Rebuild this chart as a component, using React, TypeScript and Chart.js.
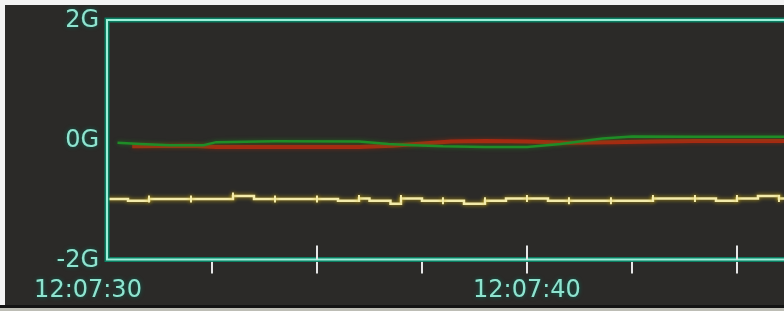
import { useEffect, useRef } from "react";
import { Chart, registerables } from "chart.js";

Chart.register(...registerables);

// ---- data ----
const X_MAX = 16.12; // seconds after 12:07:30 visible at right edge
const X_TICKS = [0, 2.5, 5, 7.5, 10, 12.5, 15];
const MAJOR_TICKS = [5, 10, 15];
const TIME_LABEL_AT = [0, 10];
const TIME_LABELS = ["12:07:30", "12:07:40"];
const Y_TICKS = [-2, 0, 2];
const Y_LABELS = ["-2G", "0G", "2G"];

const YELLOW_T = [
  0, 0.25, 0.5, 0.75, 1, 1.25, 1.5, 1.75, 2, 2.25, 2.5, 2.75, 3, 3.25, 3.5, 3.75,
  4, 4.25, 4.5, 4.75, 5, 5.25, 5.5, 5.75, 6, 6.25, 6.5, 6.75, 7, 7.25, 7.5, 7.75,
  8, 8.25, 8.5, 8.75, 9, 9.25, 9.5, 9.75, 10, 10.25, 10.5, 10.75, 11, 11.25, 11.5, 11.75,
  12, 12.25, 12.5, 12.75, 13, 13.25, 13.5, 13.75, 14, 14.25, 14.5, 14.75, 15, 15.25, 15.5, 15.75,
  16, 16.12,
];
const YELLOW_V = [
  -0.99, -0.99, -1.02, -1.02, -0.99, -0.99, -0.99, -0.99, -0.99, -0.99, -0.99, -0.99, -0.94, -0.94, -0.99, -0.99,
  -0.99, -0.99, -0.99, -0.99, -0.99, -0.99, -1.02, -1.02, -0.98, -1.02, -1.02, -1.07, -0.98, -0.98, -1.02, -1.02,
  -1.02, -1.02, -1.07, -1.07, -1.02, -1.02, -0.98, -0.98, -0.98, -0.98, -1.02, -1.02, -1.02, -1.02, -1.02, -1.02,
  -1.02, -1.02, -1.02, -1.02, -0.98, -0.98, -0.98, -0.98, -0.98, -0.98, -1.02, -1.02, -0.98, -0.98, -0.94, -0.94,
  -0.98, -0.98,
];

const GREEN_T = [0.25, 0.8, 1.5, 2.3, 2.6, 4, 6, 6.7, 7.3, 8, 9, 10, 10.8, 11.8, 12.5, 14, 16.12];
const GREEN_V = [-0.05, -0.07, -0.09, -0.09, -0.04, -0.025, -0.03, -0.07, -0.09, -0.11, -0.12, -0.12, -0.07, 0.02, 0.055, 0.05, 0.05];

const RED_T = [0.6, 2, 2.6, 4, 6, 6.8, 7.6, 8.2, 9, 10, 11, 12, 13, 14, 16.12];
const RED_V = [-0.11, -0.1, -0.12, -0.12, -0.12, -0.1, -0.06, -0.03, -0.02, -0.03, -0.05, -0.04, -0.03, -0.02, -0.02];

// ---- style ----
const FRAME = "#9cefd9";
const FRAME_GLOW = "rgba(10,130,100,0.95)";
const TEXT = "#8fe3cf";
const TEXT_GLOW = "rgba(0,110,90,0.9)";
const FONT = '24px "DejaVu Sans"';
const FIRST_LABEL_SHIFT = -19;

const decoPlugin = {
  id: "deco",
  beforeDatasetDraw(chart: any, args: any) {
    const ds = chart.data.datasets[args.index];
    const ctx = chart.ctx;
    ctx.save();
    ctx.shadowColor = ds.glowColor;
    ctx.shadowBlur = 4;
  },
  afterDatasetDraw(chart: any) {
    chart.ctx.restore();
  },
  afterDraw(chart: any) {
    const ctx = chart.ctx;
    const { left, right, top, bottom } = chart.chartArea;
    const xs = chart.scales.x;
    const ys = chart.scales.y;
    ctx.save();
    // frame with glow
    ctx.lineCap = "butt";
    ctx.strokeStyle = FRAME_GLOW;
    ctx.lineWidth = 5;
    ctx.beginPath();
    ctx.moveTo(right, top);
    ctx.lineTo(left, top);
    ctx.lineTo(left, bottom);
    ctx.lineTo(right, bottom);
    ctx.stroke();
    ctx.strokeStyle = FRAME;
    ctx.lineWidth = 2;
    ctx.stroke();
    // major ticks extend above axis
    ctx.strokeStyle = "#e6e6e6";
    ctx.lineWidth = 2;
    MAJOR_TICKS.forEach((v) => {
      const x = Math.round(xs.getPixelForValue(v));
      ctx.beginPath();
      ctx.moveTo(x, bottom - 14);
      ctx.lineTo(x, bottom);
      ctx.stroke();
    });
    // labels
    ctx.font = FONT;
    ctx.fillStyle = TEXT;
    ctx.shadowColor = TEXT_GLOW;
    ctx.shadowBlur = 4;
    ctx.textBaseline = "middle";
    ctx.textAlign = "right";
    Y_TICKS.forEach((v, i) => {
      ctx.fillText(Y_LABELS[i], left - 8, ys.getPixelForValue(v) + 1);
    });
    ctx.textAlign = "center";
    TIME_LABEL_AT.forEach((v, i) => {
      const x = xs.getPixelForValue(v) + (i === 0 ? FIRST_LABEL_SHIFT : 0);
      ctx.fillText(TIME_LABELS[i], x, bottom + 31);
    });
    ctx.restore();
  },
};

export default function App() {
  const ref = useRef<HTMLCanvasElement | null>(null);

  useEffect(() => {
    if (!ref.current) return;
    const chart = new Chart(ref.current, {
      type: "line",
      data: {
        datasets: [
          {
            label: "green",
            data: GREEN_T.map((t, i) => ({ x: t, y: GREEN_V[i] })),
            borderColor: "#1f8c27",
            borderWidth: 2.5,
            pointRadius: 0,
            tension: 0,
            glowColor: "rgba(30,140,30,0.6)",
          } as any,
          {
            label: "red",
            data: RED_T.map((t, i) => ({ x: t, y: RED_V[i] })),
            borderColor: "#a82a12",
            borderWidth: 4,
            pointRadius: 0,
            tension: 0,
            glowColor: "rgba(170,40,10,0.6)",
          } as any,
          {
            label: "yellow",
            data: YELLOW_T.map((t, i) => ({ x: t, y: YELLOW_V[i] })),
            borderColor: "#f3ebab",
            borderWidth: 2.5,
            stepped: true,
            tension: 0,
            pointStyle: "line",
            rotation: 90,
            pointBorderColor: "#f3ebab",
            pointBorderWidth: 2,
            pointRadius: (c: any) =>
              c.raw && Number.isInteger(c.raw.x) && c.raw.x > 0 ? 3.5 : 0,
            glowColor: "rgba(200,170,20,0.9)",
          } as any,
        ],
      },
      options: {
        animation: false,
        responsive: false,
        devicePixelRatio: 1,
        layout: { padding: { top: 20, left: 0, right: 0, bottom: 0 } },
        plugins: { legend: { display: false }, tooltip: { enabled: false } },
        scales: {
          x: {
            type: "linear",
            min: 0,
            max: X_MAX,
            afterBuildTicks: (s: any) => {
              s.ticks = X_TICKS.map((value) => ({ value }));
            },
            afterFit: (s: any) => {
              s.height = 51.5;
            },
            ticks: { display: false },
            border: { display: false },
            grid: {
              drawOnChartArea: false,
              drawTicks: true,
              tickLength: 14,
              lineWidth: 2,
              color: (c: any) => (c.tick && c.tick.value === 0 ? "rgba(0,0,0,0)" : "#e6e6e6"),
            },
          },
          y: {
            min: -2,
            max: 2,
            afterBuildTicks: (s: any) => {
              s.ticks = Y_TICKS.map((value) => ({ value }));
            },
            afterFit: (s: any) => {
              s.width = 107;
            },
            ticks: { display: false },
            border: { display: false },
            grid: { display: false },
          },
        },
      },
      plugins: [decoPlugin],
    });
    return () => chart.destroy();
  }, []);

  return (
    <div style={{ position: "fixed", left: 0, top: 0, width: 784, height: 311, background: "#f3f3f3", overflow: "hidden" }}>
      <div style={{ position: "absolute", left: 5, top: 5, width: 779, height: 300, background: "#2b2a28" }} />
      <div style={{ position: "absolute", left: 0, top: 305, width: 784, height: 3, background: "#141414" }} />
      <div style={{ position: "absolute", left: 0, top: 308, width: 784, height: 3, background: "#bdbdb5" }} />
      <canvas ref={ref} width={784} height={311} style={{ position: "absolute", left: 0, top: 0, display: "block" }} />
    </div>
  );
}
